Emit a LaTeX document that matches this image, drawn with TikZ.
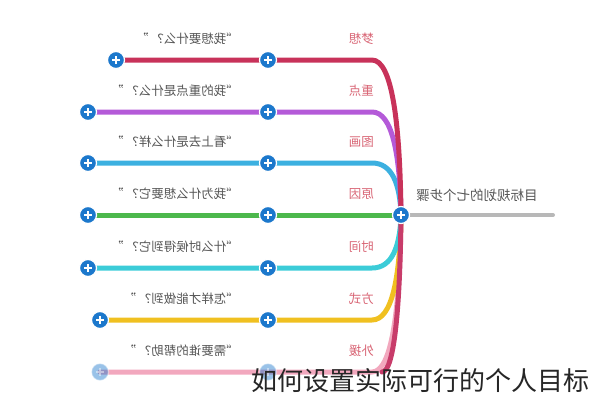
\documentclass[tikz,border=0pt]{standalone}
\usepackage{fontspec}
\newfontfamily\cjk{Noto Sans CJK SC}

\definecolor{dream}{HTML}{C8325A}
\definecolor{focus}{HTML}{B45AD8}
\definecolor{picture}{HTML}{3CB0E0}
\definecolor{reason}{HTML}{4CB84C}
\definecolor{when}{HTML}{3CCCD8}
\definecolor{how}{HTML}{F0C020}
\definecolor{help}{HTML}{F2A8BE}
\definecolor{helpdark}{HTML}{C83C6A}
\definecolor{plusblue}{HTML}{1C78CC}
\definecolor{labelred}{HTML}{D86474}
\definecolor{qgray}{HTML}{555555}

\newcommand{\mirror}[1]{\reflectbox{#1}}

\tikzset{
  branch/.style={line width=5pt, line cap=round},
  plus/.style={circle, fill=plusblue, draw=white, line width=1.2pt,
    minimum size=17pt, inner sep=0pt,
    path picture={
      \draw[white, line width=2pt]
        ([xshift=-4pt]path picture bounding box.center) -- ([xshift=4pt]path picture bounding box.center)
        ([yshift=-4pt]path picture bounding box.center) -- ([yshift=4pt]path picture bounding box.center);
    }},
  question/.style={font=\cjk\fontsize{12.5}{14}\selectfont, text=qgray, anchor=east, inner sep=0pt},
  steplabel/.style={font=\cjk\fontsize{12.5}{14}\selectfont, text=labelred, anchor=east, inner sep=0pt},
}

\begin{document}
\begin{tikzpicture}[x=1pt, y=-1pt]
  \useasboundingbox (0,0) rectangle (589,400);
  % centre
  \coordinate (hub) at (401,215);
  \coordinate (tail) at (553,215);
  \draw[line width=4pt, color=black!28, line cap=round] (hub) -- (tail);
  \node[font=\cjk\fontsize{13.5}{15}\selectfont, text=qgray, anchor=west, inner sep=0pt]
    (title) at (416,195) {\mirror{目标规划的七个步骤}};
  % les sept branches (de bas en haut)
  \foreach \y/\xl/\col/\lab/\txt [count=\i] in {
      372/100/help/外援/“需要谁的帮助？ ”,
      320/100/how/方式/“怎样才能做到？ ”,
      268/88/when/时间/“什么时候得到它？ ”,
      215/88/reason/原因/“我为什么想要它？ ”,
      163/88/picture/图画/“看上去是什么样？ ”,
      112/88/focus/重点/“我的重点是什么？ ”,
      60/116/dream/梦想/“我想要什么？ ”} {
    \pgfmathsetmacro\cy{\y+0.4*(215-\y)}
    \coordinate (L\i) at (\xl,\y);
    \coordinate (M\i) at (268,\y);
    \coordinate (K\i) at (372,\y);
    \draw[branch, \col] (L\i) -- (M\i) -- (K\i) .. controls (392,\y) and (400,\cy) .. (hub);
    \node[question] (q\i) at (239,\y-21) {\mirror{\txt}};
    \node[steplabel] (s\i) at (374,\y-21) {\mirror{\lab}};
  }
  \draw[branch, helpdark] (382,372) .. controls (394,372) and (400,309) .. (hub);
  % boutons
  \foreach \i in {2,...,7} {
    \node[plus] (pl\i) at (L\i) {};
    \node[plus] (pm\i) at (M\i) {};
  }
  \node[plus, opacity=0.45] (pl1) at (L1) {};
  \node[plus, opacity=0.45] (pm1) at (M1) {};
  \node[plus] (center) at (hub) {};
  % legende
  \node[font=\cjk\fontsize{26}{29}\selectfont, text=black!85, anchor=west, inner sep=0pt]
    (caption) at (251,381) {如何设置实际可行的个人目标};
\end{tikzpicture}
\end{document}
